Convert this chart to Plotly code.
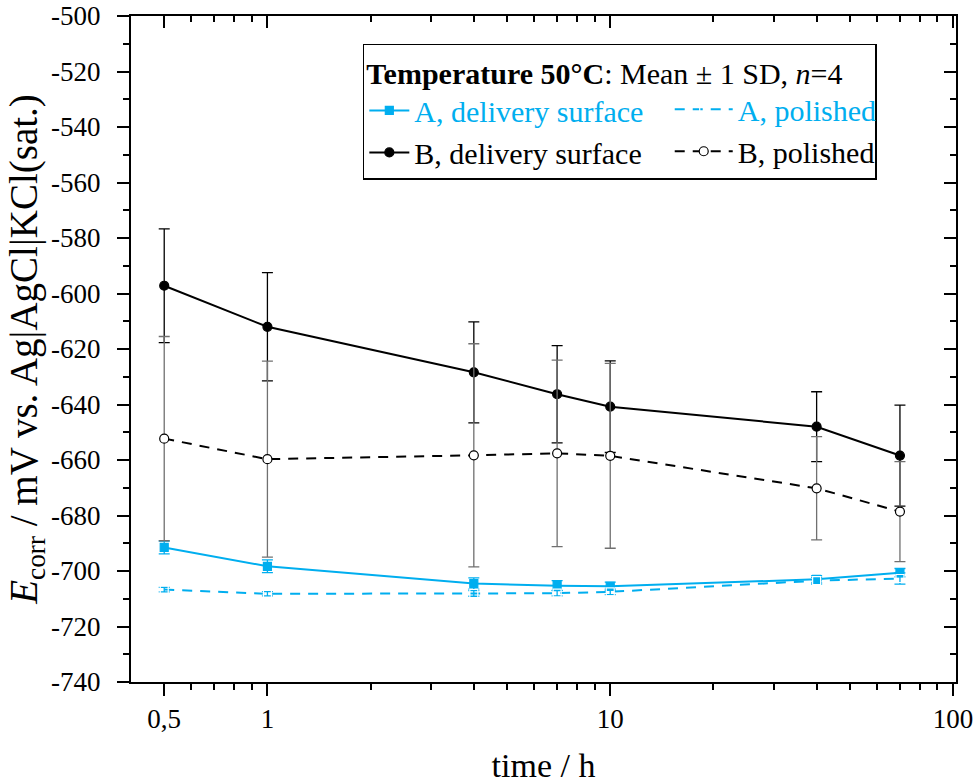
import numpy as np
import plotly.graph_objects as go

# ---- data ----
time_h = [0.5, 1, 4, 7, 10, 40, 70]

a_delivery = [-691.5, -698.3, -704.5, -705.3, -705.5, -703.0, -700.6]
a_delivery_sd = [2.3, 2.3, 2.0, 1.8, 1.5, 1.3, 1.5]
a_polished = [-706.7, -708.2, -708.1, -708.0, -707.5, -703.5, -702.7]
a_polished_sd = [0.8, 0.8, 1.0, 1.0, 1.0, 1.2, 2.0]

b_delivery = [-597.2, -612.0, -628.4, -636.3, -640.8, -648.0, -658.4]
b_delivery_sd = [20.5, 19.5, 18.2, 17.5, 16.5, 12.6, 18.2]
b_polished = [-652.3, -659.7, -658.3, -657.6, -658.5, -670.2, -678.6]
b_polished_sd = [36.8, 35.3, 40.2, 33.6, 33.3, 18.6, 18.0]

x_tickvals = [0.5, 1, 10, 100]
x_ticktext = ["0,5", "1", "10", "100"]
x_minor = [0.6, 0.7, 0.8, 0.9, 2, 3, 4, 5, 6, 7, 8, 9, 20, 30, 40, 50, 60, 70, 80, 90]
y_tickvals = list(range(-740, -499, 20))
y_ticktext = [str(v) for v in y_tickvals]
y_minor = list(range(-730, -500, 20))

CYAN = "#00AEEF"
FONT = "Liberation Serif"

fig = go.Figure()

def add(name, y, sd, color, dash, symbol, fill, errcolor, msize, legend):
    fig.add_trace(go.Scatter(
        x=time_h, y=y, name=name, mode="lines+markers", legend=legend,
        line=dict(color=color, width=2, dash=dash),
        marker=dict(symbol=symbol, size=msize, color=fill,
                    line=dict(color=color, width=1.2)),
        error_y=dict(type="data", array=sd, visible=True, color=errcolor,
                     thickness=1.3, width=5.5),
    ))

add(f"<span style='color:{CYAN}'>A, delivery surface</span>", a_delivery, a_delivery_sd,
    CYAN, "solid", "square", CYAN, CYAN, 8, "legend")
add(f"<span style='color:{CYAN}'>A, polished</span>", a_polished, a_polished_sd,
    CYAN, "10px,8px", "square-open", "white", CYAN, 8, "legend2")
add("B, delivery surface", b_delivery, b_delivery_sd,
    "black", "solid", "circle", "black", "black", 9, "legend")
add("B, polished", b_polished, b_polished_sd,
    "black", "10px,8px", "circle", "white", "#707070", 9, "legend2")

# dummy trace for mirrored (top/right) axes
fig.add_trace(go.Scatter(x=[1], y=[-600], xaxis="x2", yaxis="y2", mode="markers",
                         marker=dict(opacity=0), showlegend=False, hoverinfo="skip"))

xr = [np.log10(0.4), np.log10(102)]
yr = [-740, -500]

axis_common = dict(showgrid=False, zeroline=False, showline=True, linecolor="black",
                   linewidth=2, tickcolor="black", tickwidth=1.8, automargin=False)

fig.update_layout(
    width=979, height=784,
    margin=dict(l=131, r=23, t=16, b=102, autoexpand=False),
    paper_bgcolor="white", plot_bgcolor="white",
    font=dict(family=FONT, size=26, color="black"),
    xaxis=dict(type="log", range=xr, tickmode="array", tickvals=x_tickvals, ticktext=x_ticktext,
               ticks="outside", ticklen=12, ticklabelstandoff=0, ticklabeloverflow="allow",
               minor=dict(tickmode="array", tickvals=x_minor, ticks="outside", ticklen=6,
                          tickcolor="black", tickwidth=1.8),
               title=dict(text="time / h", font=dict(size=34), standoff=20),
               tickfont=dict(size=27), **axis_common),
    yaxis=dict(range=yr, tickmode="array", tickvals=y_tickvals, ticktext=y_ticktext,
               ticks="outside", ticklen=12, ticklabelstandoff=11, ticklabeloverflow="allow",
               minor=dict(tickmode="array", tickvals=y_minor, ticks="outside", ticklen=6,
                          tickcolor="black", tickwidth=1.8),
               title=dict(text="<i>E</i><sub>corr</sub> / mV vs. Ag|AgCl|KCl(sat.)",
                          font=dict(size=39), standoff=1),
               tickfont=dict(size=27), **axis_common),
    xaxis2=dict(type="log", range=xr, overlaying="x", side="top", anchor="y2",
                tickmode="array", tickvals=x_tickvals, ticks="inside", ticklen=12,
                showticklabels=False,
                minor=dict(tickmode="array", tickvals=x_minor, ticks="inside", ticklen=6,
                           tickcolor="black", tickwidth=1.8),
                **axis_common),
    yaxis2=dict(range=yr, overlaying="y", side="right", anchor="x2",
                tickmode="array", tickvals=y_tickvals, ticks="inside", ticklen=12,
                showticklabels=False,
                minor=dict(tickmode="array", tickvals=y_minor, ticks="inside", ticklen=6,
                           tickcolor="black", tickwidth=1.8),
                **axis_common),
    legend=dict(
        x=0.281, y=0.958, xanchor="left", yanchor="top", orientation="v",
        bordercolor="black", borderwidth=1.5, bgcolor="white",
        font=dict(family=FONT, size=30, color="black"),
        title=dict(text="<b>Temperature 50°C</b>: Mean ± 1 SD, <i>n</i>=4&nbsp;&nbsp;&nbsp;&nbsp;",
                   side="top", font=dict(family=FONT, size=30)),
        tracegroupgap=0, itemwidth=40,
    ),
    legend2=dict(
        x=0.653, y=0.899, xanchor="left", yanchor="top", orientation="v",
        borderwidth=0, bgcolor="rgba(0,0,0,0)",
        font=dict(family=FONT, size=30, color="black"),
        tracegroupgap=0, itemwidth=58,
    ),
    showlegend=True,
)

fig.write_html("out.html", config={"displayModeBar": False},
               post_script="document.body.style.margin='0';")
